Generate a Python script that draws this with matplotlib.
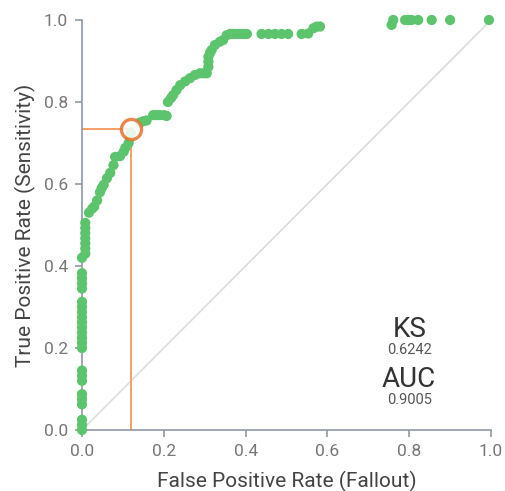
import matplotlib.pyplot as plt
import numpy as np

plt.rcParams['font.family'] = ['Roboto', 'DejaVu Sans']

# ROC points (false positive rate, true positive rate)
fpr = [0, 0, 0,
       0, 0, 0,
       0, 0, 0,
       0, 0, 0, 0, 0, 0, 0, 0, 0, 0,
       0, 0, 0, 0,
       0,
       0.008, 0.008, 0.008, 0.008, 0.008, 0.008, 0.008,
       0.017, 0.025, 0.03, 0.037, 0.044, 0.048, 0.053, 0.061, 0.069, 0.077,
       0.081, 0.093, 0.102, 0.106, 0.114, 0.117, 0.12,
       0.142, 0.15, 0.158, 0.174, 0.182, 0.19, 0.2, 0.207,
       0.21, 0.218, 0.223, 0.231, 0.24, 0.252, 0.264, 0.276, 0.288, 0.297,
       0.305, 0.309, 0.309, 0.309, 0.313, 0.317, 0.325, 0.337, 0.345, 0.354,
       0.362, 0.369, 0.378, 0.386, 0.395, 0.403,
       0.439, 0.456, 0.472, 0.488, 0.504, 0.537, 0.553, 0.566, 0.574, 0.582,
       0.757, 0.761, 0.79, 0.798, 0.806, 0.822, 0.855, 0.9, 0.995]
tpr = [0, 0.0125, 0.025,
       0.0625, 0.075, 0.0875,
       0.12, 0.1325, 0.145,
       0.2, 0.2125, 0.225, 0.2375, 0.25, 0.2625, 0.275, 0.2875, 0.3, 0.3125,
       0.345, 0.3575, 0.37, 0.3825,
       0.42,
       0.43, 0.4425, 0.455, 0.4675, 0.48, 0.4925, 0.505,
       0.53, 0.54, 0.545, 0.56, 0.58, 0.59, 0.598, 0.614, 0.627, 0.646,
       0.666, 0.668, 0.679, 0.688, 0.70, 0.712, 0.725,
       0.75, 0.753, 0.755, 0.768, 0.768, 0.768, 0.768, 0.766,
       0.80, 0.81, 0.817, 0.829, 0.841, 0.85, 0.858, 0.866, 0.87, 0.87,
       0.87, 0.886, 0.898, 0.91, 0.92, 0.927, 0.939, 0.947, 0.951, 0.963,
       0.966, 0.966, 0.966, 0.966, 0.966, 0.966,
       0.966, 0.966, 0.966, 0.966, 0.966, 0.966, 0.967, 0.98, 0.984, 0.984,
       0.988, 1, 1, 1, 1, 1, 1, 1, 1]

# KS point
ks_x, ks_y = 0.12, 0.734
ks_value = "0.6242"
auc_value = "0.9005"

fig = plt.figure(figsize=(5.05, 4.91), dpi=100)
ax = fig.add_axes([82 / 505, 61 / 491, 409 / 505, 410 / 491])

ax.plot([0, 1], [0, 1], color='#dcdcdc', lw=1.2, zorder=1)
ax.plot([ks_x, ks_x], [0, ks_y], color='#f3a064', lw=1.4, zorder=2)
ax.plot([0, ks_x], [ks_y, ks_y], color='#f3a064', lw=1.4, zorder=2)
ax.scatter(fpr, tpr, s=54, color='#5cc46c', edgecolors='none', zorder=3, clip_on=False)
ax.scatter([ks_x], [ks_y], s=210, facecolors='white', edgecolors='#e8712c',
           linewidths=2.4, zorder=4, clip_on=False, alpha=0.85)

ax.text(0.80, 0.244, "KS", fontsize=20, color='#333333', ha='center', va='center')
ax.text(0.80, 0.196, ks_value, fontsize=10.5, color='#555555', ha='center', va='center')
ax.text(0.80, 0.122, "AUC", fontsize=20, color='#333333', ha='center', va='center')
ax.text(0.80, 0.074, auc_value, fontsize=10.5, color='#555555', ha='center', va='center')

ax.set_xlim(0, 1)
ax.set_ylim(0, 1)
ticks = np.arange(0, 1.01, 0.2)
ax.set_xticks(ticks)
ax.set_yticks(ticks)
ax.set_xticklabels([f"{t:.1f}" for t in ticks])
ax.set_yticklabels([f"{t:.1f}" for t in ticks])
for s in ['top', 'right']:
    ax.spines[s].set_visible(False)
for s in ['left', 'bottom']:
    ax.spines[s].set_color('#8e99a5')
    ax.spines[s].set_linewidth(1.2)
ax.tick_params(colors='#8e99a5', labelcolor='#777777', labelsize=12.5,
               length=5, width=1.2, direction='out', pad=5)
ax.set_xlabel("False Positive Rate (Fallout)", fontsize=15, color='#444444', labelpad=9)
ax.set_ylabel("True Positive Rate (Sensitivity)", fontsize=15, color='#444444', labelpad=6)

fig.savefig('out.png', dpi=100)
